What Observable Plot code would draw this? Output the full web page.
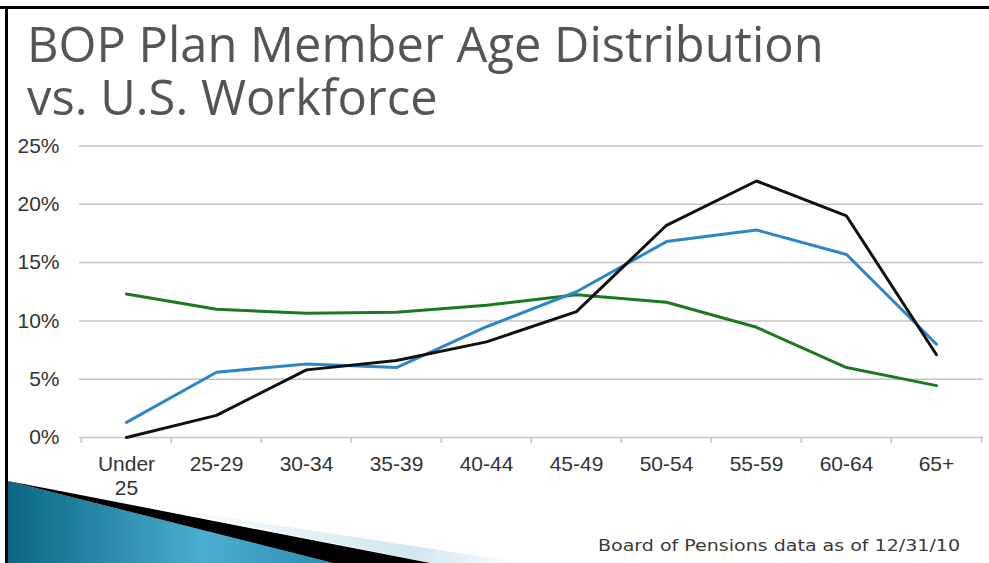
<!DOCTYPE html>
<html>
<head>
<meta charset="utf-8">
<script src="https://cdn.jsdelivr.net/npm/d3@7"></script>
<script src="https://cdn.jsdelivr.net/npm/@observablehq/plot@0.6"></script>
<style>
  html, body { margin: 0; padding: 0; background: #fff; }
  #page { position: relative; width: 989px; height: 563px; overflow: hidden; background: #fff; }
  #deco { position: absolute; left: 0; top: 0; }
  #titlesvg { position: absolute; left: 0; top: 0; }
  #chart { position: absolute; left: 0; top: 130px; }
  #caption { position: absolute; left: 598px; top: 536px; font-family: "DejaVu Sans", sans-serif; font-size: 16px; line-height: 20px; color: #3a3a3a;
             white-space: nowrap; transform-origin: 0 0; }
</style>
</head>
<body>
<div id="page">
  <svg id="deco" width="989" height="563">
    <defs>
      <linearGradient id="blueGrad" x1="0" y1="0" x2="1" y2="0">
        <stop offset="0" stop-color="#0b6684"/>
        <stop offset="0.6" stop-color="#4aaed0"/>
        <stop offset="1" stop-color="#2a8db2"/>
      </linearGradient>
      <linearGradient id="paleGrad" x1="0" y1="0" x2="1" y2="0">
        <stop offset="0" stop-color="#ffffff"/>
        <stop offset="0.7" stop-color="#cfe7f1"/>
        <stop offset="1" stop-color="#ffffff"/>
      </linearGradient>
    </defs>
    <polygon points="150,506 525,563 430,563" fill="url(#paleGrad)"/>
    <polygon points="8,481 333,563 8,563" fill="url(#blueGrad)"/>
    <polygon points="60,491 430,563 333,563 8,481" fill="#000"/>
    <rect x="0" y="6" width="989" height="3" fill="#000"/>
    <rect x="5" y="6" width="3" height="557" fill="#000"/>
  </svg>
  <svg id="titlesvg" width="989" height="130">
    <text id="title" font-family="'Open Sans', sans-serif" font-size="49" fill="#555" transform="translate(27,0)">
      <tspan id="tl1" x="0" y="62">BOP Plan Member Age Distribution</tspan>
      <tspan x="0" y="115">vs. U.S. Workforce</tspan>
    </text>
  </svg>
  <div id="chart"></div>
  <div id="caption"><span>Board of Pensions data as of 12/31/10</span></div>
</div>
<script>
// Age group categories
const ageGroups = ["Under 25", "25-29", "30-34", "35-39", "40-44", "45-49", "50-54", "55-59", "60-64", "65+"];
// Series values (% of members / workforce)
const bopPlanMembers = [0.0, 1.9, 5.8, 6.6, 8.2, 10.8, 18.2, 22.0, 19.0, 7.1];   // black
const bopSecondGroup = [1.3, 5.6, 6.3, 6.0, 9.5, 12.5, 16.8, 17.8, 15.7, 8.0];   // blue
const usWorkforce    = [12.3, 11.0, 10.65, 10.75, 11.35, 12.25, 11.6, 9.45, 6.0, 4.45]; // green
// Y tick values
const yTicks = [0, 5, 10, 15, 20, 25];

const seriesDefs = [
  {name: "U.S. Workforce", values: usWorkforce, color: "#1b7a1f"},
  {name: "BOP Group", values: bopSecondGroup, color: "#2d86c6"},
  {name: "BOP Plan Members", values: bopPlanMembers, color: "#111111"}
];
const data = seriesDefs.flatMap(s => ageGroups.map((g, i) => ({series: s.name, age: g, value: s.values[i]})));

const W = 989, H = 433, ML = 79, MR = 6, MT = 15.5, MB = 126;
const step = (W - ML - MR) / ageGroups.length;

const plot = Plot.plot({
  width: W,
  height: H,
  marginLeft: ML,
  marginRight: MR,
  marginTop: MT,
  marginBottom: MB,
  style: {background: "transparent", fontFamily: "'Liberation Sans', Arial, sans-serif"},
  x: {type: "point", domain: ageGroups, padding: 0.5},
  y: {domain: [0, 25]},
  color: {domain: seriesDefs.map(s => s.name), range: seriesDefs.map(s => s.color)},
  marks: [
    Plot.gridY(yTicks, {stroke: "#c4c4c4", strokeOpacity: 1, strokeWidth: 1.5}),
    Plot.ruleX(ageGroups, {x: d => d, y1: 0, y2: 0, insetBottom: -6, dx: -step / 2, stroke: "#c4c4c4", strokeWidth: 1.5}),
    Plot.ruleX(ageGroups.slice(-1), {x: d => d, y1: 0, y2: 0, insetBottom: -6, dx: step / 2, stroke: "#c4c4c4", strokeWidth: 1.5}),
    Plot.axisY(yTicks, {tickSize: 0, tickPadding: 20, fontSize: 21, fill: "#333", tickFormat: d => d + "%", label: null}),
    Plot.axisX(ageGroups, {tickSize: 0, tickPadding: 16, fontSize: 21, fill: "#333", lineHeight: 1.15,
      tickFormat: d => d === "Under 25" ? "Under\n25" : d, label: null}),
    Plot.line(data, {x: "age", y: "value", z: "series", stroke: "series", strokeWidth: 3, strokeLinejoin: "miter", curve: "linear"})
  ]
});
document.getElementById("chart").appendChild(plot);

// fit text widths to the reference's measured spans
const len1 = document.getElementById("tl1").getComputedTextLength();
if (len1 > 0) document.getElementById("title").setAttribute("transform", `translate(27,0) scale(${797 / len1},1)`);
const capSpan = document.getElementById("caption").querySelector("span");
const cw = capSpan.getBoundingClientRect().width;
if (cw > 0) document.getElementById("caption").style.transform = `scaleX(${362 / cw})`;
</script>
</body>
</html>
